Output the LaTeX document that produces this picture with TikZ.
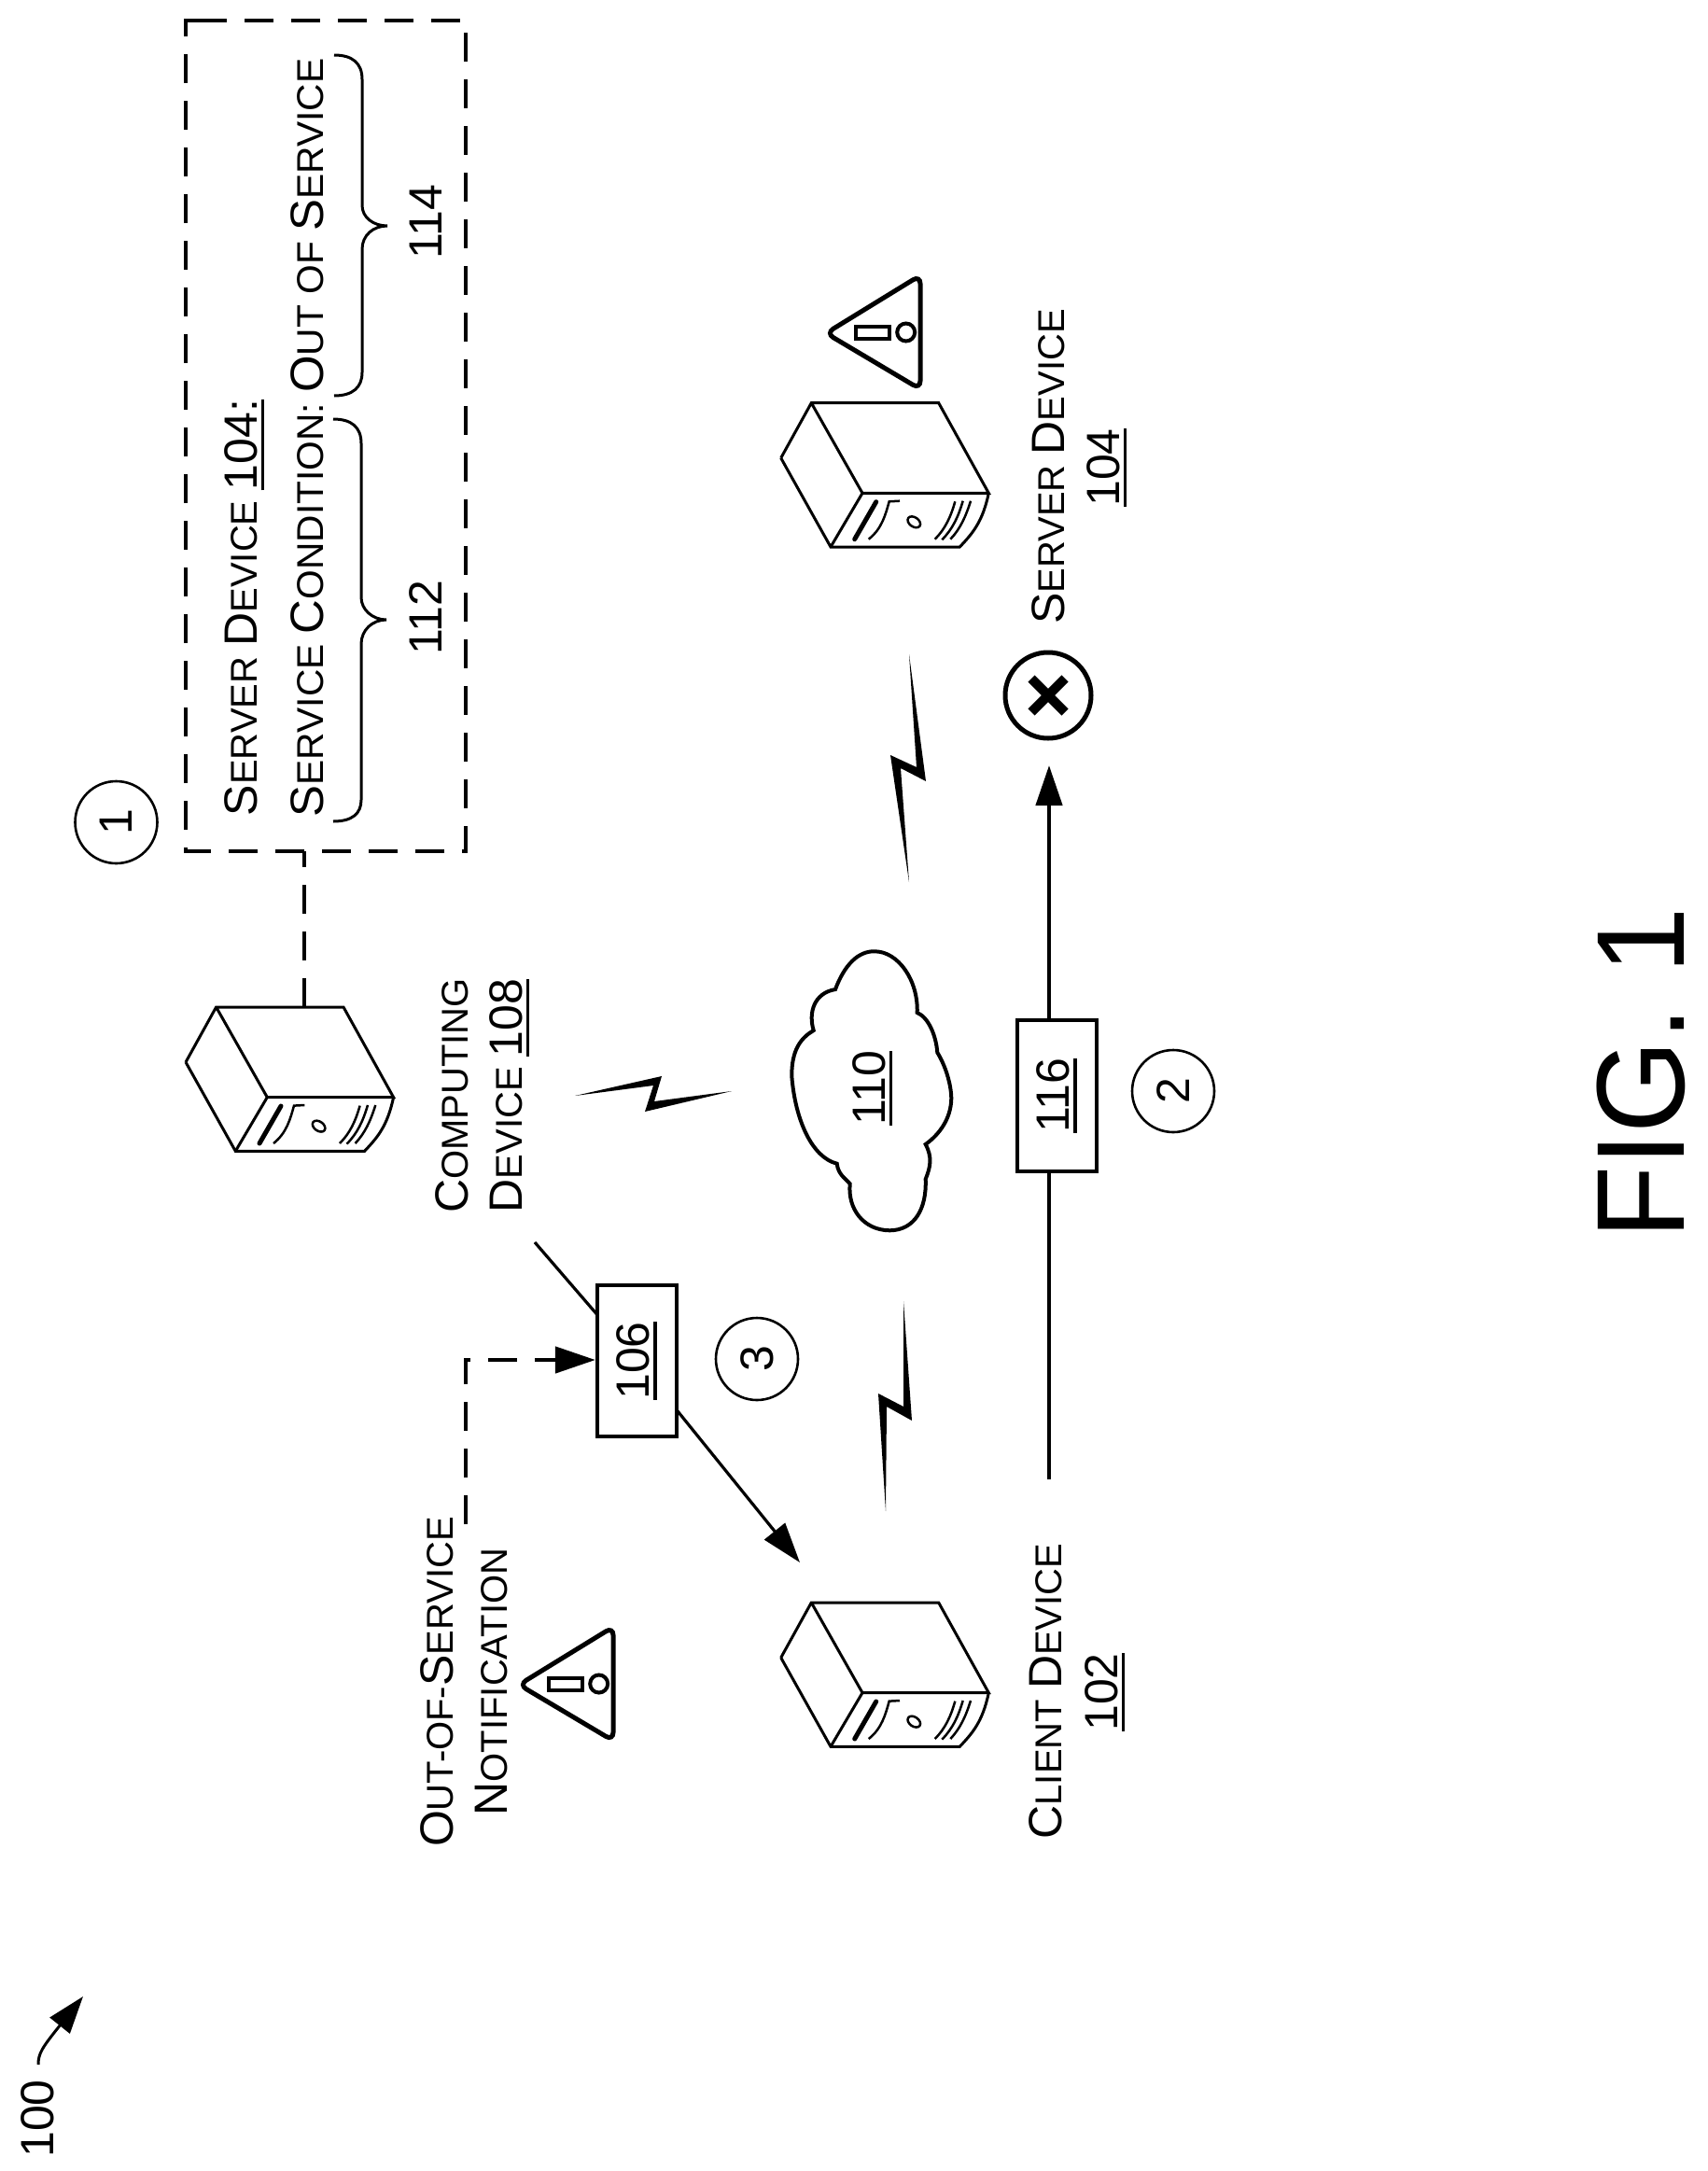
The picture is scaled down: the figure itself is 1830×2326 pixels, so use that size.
\documentclass[tikz,border=0pt]{standalone}
\usepackage{fontspec}
\setmainfont{Liberation Sans}
\usetikzlibrary{arrows.meta}
\newcommand\Bg[1]{{\fontsize{50}{60}\selectfont #1}}
\newcommand\Ul[1]{{\setbox0\hbox{#1}\rlap{\rule[-8pt]{\wd0}{3.5pt}}\box0}}
\tikzset{
  lbl/.style={rotate=90,anchor=base,inner sep=0pt,font=\fontsize{40}{48}\selectfont},
  num/.style={rotate=90,anchor=base,inner sep=0pt,font=\fontsize{50}{60}\selectfont},
  twolines/.style={rotate=90,anchor=center,inner sep=0pt,align=center,font=\fontsize{40}{58}\selectfont},
  stepcircle/.style={draw,circle,line width=2.6pt,minimum size=88pt,inner sep=0pt,rotate=90,font=\fontsize{50}{60}\selectfont},
  msgbox/.style={draw,line width=4.2pt,fill=white,inner sep=0pt,rotate=90,font=\fontsize{50}{60}\selectfont},
  lin/.style={line width=3pt},
  thicklin/.style={line width=4.5pt},
  dashline/.style={line width=4.5pt,dash pattern=on 31pt off 19pt},
  tip/.style={-{Triangle[length=43pt,width=28pt]}},
  bolt/.style={fill=black,draw=none},
  srv/.pic={
    \draw[lin,line join=miter] (0,59) -- (32.6,0) -- (169,0) -- (222.6,96.6) -- (87.3,96.6) -- (32.6,0);
    \draw[lin] (0,59) -- (53.3,154.3) -- (191.6,154.3) .. controls (205,140) and (216,128) .. (222.6,96.6);
    \draw[lin] (87.3,96.6) -- (53.3,154.3);
    \draw[line width=5pt,line cap=round] (79,146) -- (102,106);
    \draw[line width=2.5pt] (94,146) .. controls (108,135) and (112,120) .. (116,105.6) -- (127.3,105);
    \draw[line width=2.5pt,rotate around={-35:(142.6,127.6)}] (142.6,127.6) ellipse (7.5 and 5);
    \draw[line width=2.5pt] (165,146) .. controls (176,135) and (182,122) .. (186.6,105.6);
    \draw[line width=2.5pt] (172.6,146.6) .. controls (184,135) and (190,122) .. (195,105);
    \draw[line width=2.5pt] (181.6,146) .. controls (192,135) and (198,122) .. (203.3,105);
  },
  warn/.pic={
    \draw[line width=5pt,rounded corners=9pt] (-4,0) -- (97,-62) -- (97,60) -- cycle;
    \draw[line width=4pt] (28,-7) rectangle (64,6);
    \draw[line width=4pt] (81.7,-1) circle (9.5);
  }
}
\begin{document}
\begin{tikzpicture}[x=1pt,y=-1pt]
\useasboundingbox (0,0) rectangle (1830,2326);

% status box
\node[minimum width=300pt,minimum height=890pt,inner sep=0pt] (statusbox) at (349,467) {};
\draw[dashline] (212,22) -- (499,22) -- (499,912) -- (199,912) -- (199,22) -- (212,22);
\node[lbl] (t1) at (275,651) {\Bg{S}ERVER \Bg{D}EVICE \Ul{\Bg{104:}}};
\node[lbl] (t2) at (346,469) {\scalebox{1.018}[1]{\Bg{S}ERVICE \Bg{C}ONDITION: \Bg{O}UT OF \Bg{S}ERVICE}};
\draw[lin] (358,59) .. controls (378,59) and (388,68) .. (388,85) -- (388,220)
  .. controls (388,233) and (400,242) .. (415,242) .. controls (400,242) and (388,252) .. (388,267)
  -- (388,399) .. controls (388,415) and (378,424) .. (358,424);
\draw[lin] (357,449) .. controls (377,449) and (387,458) .. (387,475) -- (387,640)
  .. controls (387,653) and (399,664) .. (414,664) .. controls (399,664) and (387,675) .. (387,690)
  -- (387,857) .. controls (387,872) and (377,880) .. (357,880);
\node[num] (n114) at (473,238) {114};
\node[num] (n112) at (473,662) {112};
\node[stepcircle] (c1) at (124.5,881) {1};

% servers
\pic at (199,1079) {srv};
\pic at (836.7,431.7) {srv};
\pic at (836.7,1717) {srv};
\coordinate (srvtop) at (326,1079);
\draw[dashline] (srvtop) -- (srvtop |- statusbox.south);

% warnings
\pic at (889,357) {warn};
\pic at (560,1805) {warn};

% labels
\node[twolines] (computing) at (517,1174) {\Bg{C}OMPUTING\\\Bg{D}EVICE \Ul{\Bg{108}}};
\node[lbl] (srvlbl) at (1140,500) {\Bg{S}ERVER \Bg{D}EVICE};
\node[num] (srvnum) at (1199,501) {\Ul{104}};
\node[lbl] (clilbl) at (1137,1812) {\Bg{C}LIENT \Bg{D}EVICE};
\node[num] (clinum) at (1197,1813) {\Ul{102}};
\node[twolines] (oos) at (497,1802) {\Bg{O}UT-OF-\Bg{S}ERVICE\\\Bg{N}OTIFICATION};

% cloud
\draw[line width=4pt,fill=white] (895,1060) .. controls (905,1033) and (920,1019) .. (936.7,1019.3)
  .. controls (962,1019) and (984,1050) .. (982.7,1085)
  .. controls (995,1090) and (1003,1110) .. (1004.3,1127.7)
  .. controls (1012,1140) and (1019,1160) .. (1019.3,1176.7)
  .. controls (1019,1198) and (1007,1215) .. (991.7,1226)
  .. controls (999,1240) and (997,1250) .. (991.7,1263.3)
  .. controls (993,1295) and (980,1318) .. (953.3,1318.3)
  .. controls (925,1318) and (908,1295) .. (910.7,1268.3)
  .. controls (905,1262) and (898,1258) .. (896.7,1246.7)
  .. controls (870,1240) and (852,1200) .. (848.3,1153)
  .. controls (848,1125) and (858,1112) .. (871.7,1104)
  .. controls (866,1085) and (872,1064) .. (895,1060) -- cycle;
\node[num] (cloudnum) at (948,1166) {\Ul{110}};

% bolts
\fill[bolt] (616,1174) -- (709,1153) -- (701,1180) -- (784,1169) -- (691,1191) -- (700,1163) -- cycle;
\fill[bolt] (974,701) -- (992,837) -- (965,823) -- (974,945) -- (954,809) -- (982,822) -- cycle;
\fill[bolt] (968,1394) -- (977,1522) -- (950,1507) -- (949,1619) -- (941,1493) -- (968,1507) -- cycle;

% main arrow
\node[msgbox,minimum width=162pt,minimum height=85pt] (b116) at (1132.5,1174) {\Ul{116}};
\coordinate (mainstart) at (1124,1585);
\coordinate (maintip) at (1124,820);
\draw[thicklin] (mainstart) -- (mainstart |- b116.west);
\draw[thicklin,tip] (maintip |- b116.east) -- (maintip);
\node[draw,circle,line width=5pt,minimum size=92pt,inner sep=0pt] (failed) at (1123,745) {};
\draw[line width=10pt] ([shift={(-18,-18)}]failed.center) -- ([shift={(18,18)}]failed.center);
\draw[line width=10pt] ([shift={(-18,18)}]failed.center) -- ([shift={(18,-18)}]failed.center);
\node[stepcircle] (c2) at (1257,1169) {2};

% notification
\coordinate (cdline) at (573,1331);
\coordinate (cltip) at (857,1674);
\coordinate (notstart) at (499,1633);
\coordinate (notcorner) at (499,1457);
\draw[line width=3.2pt] (cdline) -- (682.5,1458);
\draw[line width=3.2pt,tip] (682.5,1458) -- (cltip);
\node[msgbox,minimum width=162pt,minimum height=85pt] (b106) at (682.5,1458) {\Ul{106}};
\draw[dashline,tip] (notstart) -- (notcorner) -- (b106.north |- notcorner);
\node[stepcircle] (c3) at (811,1456) {3};

% figure label
\node[rotate=90,anchor=base,inner sep=0pt,font=\fontsize{134}{160}\selectfont] (fig) at (1804,1150) {\scalebox{.955}[1]{FIG. 1}};

% reference 100
\node[num] (ref) at (57,2270) {100};
\coordinate (r1) at (41,2212);
\coordinate (r2) at (89,2139);
\draw[line width=3pt,-{Triangle[length=40pt,width=27pt]}] (r1) .. controls (41,2200) and (45,2194) .. (r2);
\end{tikzpicture}
\end{document}
